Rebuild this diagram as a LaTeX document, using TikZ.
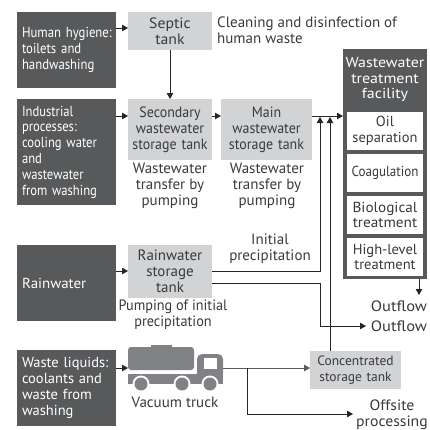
\documentclass[tikz,border=0pt]{standalone}
\usepackage{fontspec}
\setmainfont{PT Sans}
\usetikzlibrary{arrows.meta}
\definecolor{darkbox}{HTML}{58595B}
\definecolor{lightbox}{HTML}{D1D3D4}
\definecolor{truckgray}{HTML}{808285}
\definecolor{inktext}{HTML}{3A3A3C}
\tikzset{
 x=1pt,y=-1pt,
 sq/.style 2 args={font={\fontsize{#1}{15.8}\selectfont\addfontfeature{FakeStretch=#2}}},
 boxbase/.style={anchor=north west,inner sep=0pt,outer sep=0pt,align=center,sq={15}{1},text=inktext},
 darknode/.style={boxbase,fill=darkbox,text=white,align=left,sq={14.5}{1},text width=89pt,minimum width=99pt},
 lightnode/.style={boxbase,fill=lightbox},
 whitenode/.style={boxbase,fill=white,sq={14.5}{1},minimum width=76pt,minimum height=38pt,text width=76pt},
 caption/.style={inner sep=0pt,align=center,sq={15}{1},text=inktext},
 flow/.style={draw=black!85,line width=0.8pt,-{Triangle[length=6pt,width=6.5pt]}},
}
\begin{document}
\begin{tikzpicture}
\useasboundingbox (0,0) rectangle (430,429);
% dark sources
\node[darknode,sq={14.5}{0.88},minimum height=76pt] (human) at (17,12) {\mbox{Human hygiene:}\\toilets and\\handwashing};
\node[darknode,sq={14.5}{0.87},minimum height=106pt] (indus) at (17,99) {Industrial\\processes:\\cooling water\\and\\wastewater\\from washing};
\node[darknode,sq={14.5}{1.03},minimum height=76pt] (rain) at (17,245) {Rainwater};
\node[darknode,minimum height=76pt] (waste) at (17,350) {Waste liquids:\\coolants and\\waste from\\washing};
% light tanks
\node[lightnode,sq={15}{1.05},minimum width=84pt,minimum height=38pt,text width=84pt] (septic) at (128,12) {Septic\\tank};
\node[lightnode,sq={15}{0.93},minimum width=84pt,minimum height=61pt,text width=84pt] (second) at (128,99) {Secondary\\wastewater\\storage tank};
\node[lightnode,sq={15}{0.93},minimum width=91pt,minimum height=61pt,text width=91pt] (main) at (221,99) {Main\\wastewater\\storage tank};
\node[lightnode,minimum width=84pt,minimum height=53pt,text width=84pt] (rstore) at (128,245) {Rainwater\\storage\\tank};
\node[lightnode,sq={13.5}{1},minimum width=91pt,minimum height=38pt,text width=91pt] (conc) at (310,351) {Concentrated\\storage tank};
% facility
\node[fill=darkbox,inner sep=0pt,outer sep=0pt,anchor=north west,minimum width=84pt,minimum height=230pt] (fac) at (343,49) {};
\node[text=white,inner sep=0pt,align=center,sq={14.5}{1.1},anchor=center] (factitle) at (385,79.5) {Wastewater\\treatment\\facility};
\node[whitenode] (oil) at (347,112) {Oil\\separation};
\node[whitenode,sq={14.5}{0.9}] (coag) at (347,154) {Coagulation};
\node[whitenode,sq={14.5}{1.05}] (bio) at (347,196) {Biological\\treatment};
\node[whitenode] (high) at (347,238) {High-level\\treatment};
% captions
\node[caption,align=left,anchor=west] (clean) at (217,30) {Cleaning and disinfection of\\human waste};
\node[caption] (cap1) at (170,186) {Wastewater\\transfer by\\pumping};
\node[caption] (cap2) at (267,186) {Wastewater\\transfer by\\pumping};
\node[caption] (initial) at (270,248.5) {Initial\\precipitation};
\node[caption,sq={15}{0.95}] (pump) at (173,315) {Pumping of initial\\precipitation};
\node[caption] (vac) at (175,402) {Vacuum truck};
\node[caption,sq={15}{1.1}] (out1) at (399,306) {Outflow};
\node[caption,sq={15}{1.1}] (out2) at (399,326) {Outflow};
\node[caption,sq={15}{1.05}] (off) at (392,414.5) {Offsite\\processing};
% truck
\fill[truckgray,rounded corners=3pt] (128,347) rectangle (194,370);
\fill[truckgray] (151,344.5) rectangle (172,350);
\fill[truckgray,rounded corners=5pt] (197,379.5) -- (197,354) -- (223,354) -- (223,379.5) -- cycle;
\fill[truckgray] (128,374) rectangle (223,384);
\fill[white] (204,358) rectangle (217,369);
\foreach \cx in {141,182,210}{
 \fill[white] (\cx,384) circle (8.5);
 \fill[truckgray] (\cx,384) circle (6.5);
}
\coordinate (truckR) at (223,368);
\coordinate (split) at (247,368);
% connectors
\draw[flow] (human.east|-0,28) -- (septic.west|-0,28);
\draw[flow] (septic) -- (second);
\draw[flow] (indus.east|-0,116) -- (second.west|-0,116);
\draw[flow] (second.east|-0,116) -- (main.west|-0,116);
\draw[flow] (main.east|-0,116) -- (fac.west|-0,116);
\draw[flow] (rain.east|-0,271) -- (rstore.west|-0,271);
\draw[flow] (waste.east|-0,368) -- (128,368);
\draw[flow] (rstore.east|-0,271) -- (320,271) -- (320,117);
\draw[flow] (conc.north-|330,0) -- (330,117);
\draw[flow] (rstore.east|-0,283) -- (320,283) -- (320,326) -- (366,326);
\draw[flow] (fac.south-|419,0) -- (419,295);
\draw[flow,draw=truckgray!70!black] (truckR) -- (conc.west|-truckR);
\draw[flow] (split) -- (247,414) -- (353,414);
\end{tikzpicture}
\end{document}
